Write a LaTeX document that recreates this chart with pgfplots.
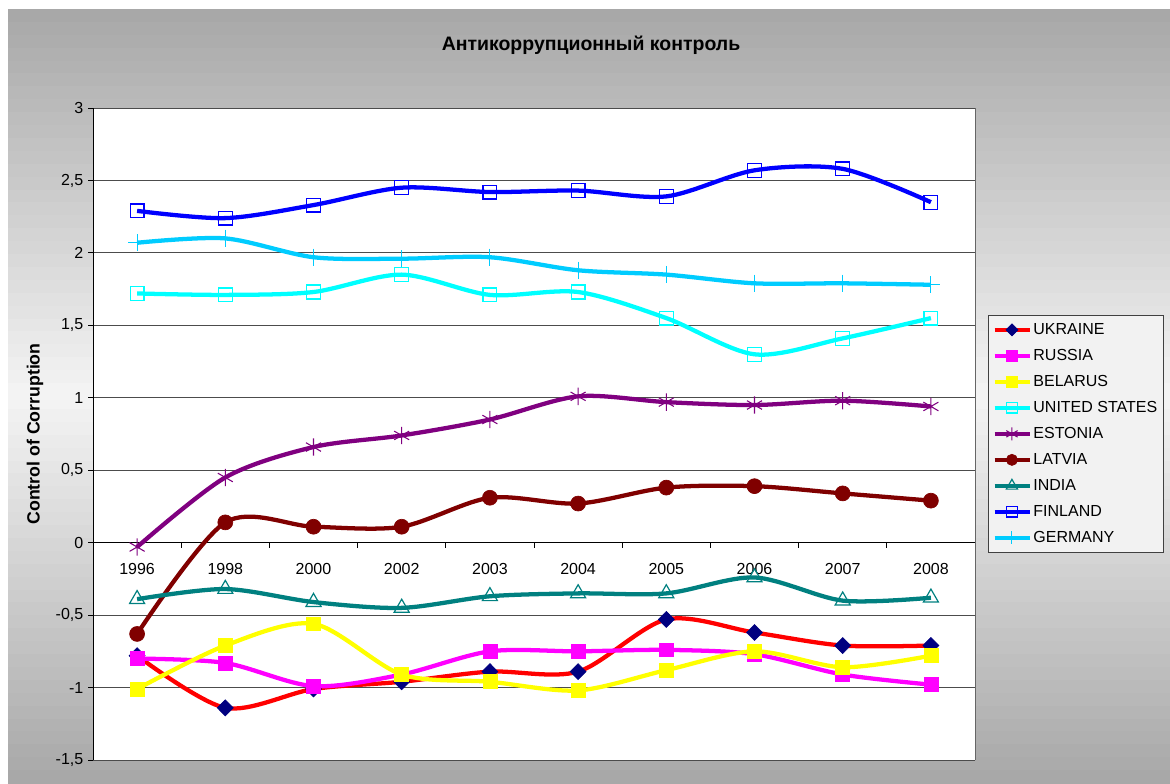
\documentclass[border=0pt]{standalone}
\usepackage{fontspec}
\setmainfont{Liberation Sans}
\usepackage{pgfplots}
\usepackage{pgfplotstable}
\pgfplotsset{compat=1.18}
\pgfdeclarelayer{chartbg}
\pgfsetlayers{chartbg,main}

\definecolor{legfill}{HTML}{F2F2F2}
\definecolor{cUKR}{HTML}{FF0000}
\definecolor{mUKR}{HTML}{000080}
\definecolor{cRUS}{HTML}{FF00FF}
\definecolor{cBLR}{HTML}{FFFF00}
\definecolor{cUSA}{HTML}{00FFFF}
\definecolor{cEST}{HTML}{800080}
\definecolor{cLVA}{HTML}{800000}
\definecolor{cIND}{HTML}{008080}
\definecolor{cFIN}{HTML}{0000FF}
\definecolor{cDEU}{HTML}{00CCFF}

% control of corruption, 1996-2008 (x = category index)
\pgfplotstableread{
x  UKR   RUS   BLR   USA   EST   LVA   IND   FIN   DEU
0 -0.78 -0.80 -1.01  1.72 -0.03 -0.63 -0.39  2.29  2.07
1 -1.14 -0.83 -0.71  1.71  0.45  0.14 -0.32  2.24  2.10
2 -1.01 -0.99 -0.56  1.73  0.66  0.11 -0.41  2.33  1.97
3 -0.96 -0.91 -0.91  1.85  0.74  0.11 -0.45  2.45  1.96
4 -0.89 -0.75 -0.96  1.71  0.85  0.31 -0.37  2.42  1.97
5 -0.89 -0.75 -1.02  1.73  1.01  0.27 -0.35  2.43  1.88
6 -0.53 -0.74 -0.88  1.55  0.97  0.38 -0.35  2.39  1.85
7 -0.62 -0.77 -0.75  1.30  0.95  0.39 -0.24  2.57  1.79
8 -0.71 -0.91 -0.86  1.41  0.98  0.34 -0.40  2.58  1.79
9 -0.71 -0.98 -0.78  1.55  0.94  0.29 -0.38  2.35  1.78
}\cc

\pgfplotsset{
  ser/.style={smooth, line width=3.2pt, color=#1, mark size=5.2pt},
}

\begin{document}
\begin{tikzpicture}
\begin{axis}[
  at={(69.75pt,17.25pt)}, anchor=south west,
  scale only axis, width=661.5pt, height=489pt,
  axis background/.style={fill=white},
  xmin=-0.5, xmax=9.5, ymin=-1.5, ymax=3,
  axis x line=middle, axis y line=left,
  x axis line style={-, black, line width=0.75pt},
  y axis line style={-, black, line width=0.75pt},
  xtick={0,...,9},
  xticklabels={1996,1998,2000,2002,2003,2004,2005,2006,2007,2008},
  major x tick style={draw=none},
  minor xtick={-0.5,0.5,...,9.5},
  minor x tick style={black, line width=0.75pt},
  minor tick length=3.75pt,
  xtick align=outside,
  xticklabel style={yshift=-8pt},
  ytick={-1.5,-1,...,3},
  ytick align=outside,
  major tick length=3.75pt,
  y tick style={black, line width=0.75pt},
  ymajorgrids,
  major grid style={black!70, line width=0.75pt},
  tick label style={font=\fontsize{12}{14}\selectfont},
  /pgf/number format/use comma,
  /pgf/number format/assume math mode=true,
  clip=false,
  legend style={at={(1.0147,0.6825)}, anchor=north west,
    fill=legfill, draw=black!75, line width=0.75pt,
    font=\fontsize{12}{14}\selectfont,
    inner xsep=3pt, inner ysep=5pt, row sep=8pt,
    nodes={inner xsep=1.5pt, inner ysep=0pt, text height=9pt, text depth=2.5pt},
    cells={anchor=west}},
  legend image code/.code={
    \draw[mark repeat=2, mark phase=2, every mark/.append style={scale=0.75}]
      plot coordinates {(0pt,0pt) (13pt,0pt) (26pt,0pt)};},
]
\draw[black!60, line width=0.75pt] (rel axis cs:1,0) -- (rel axis cs:1,1);

\addplot[ser=cUKR, mark=diamond*, mark size=6pt, mark options={solid, line width=0.5pt, draw=mUKR, fill=mUKR, xscale=1.33}] table[x=x, y=UKR] {\cc};
\addlegendentry{UKRAINE}
\addplot[ser=cRUS, mark=square*, mark options={solid, line width=0.5pt, draw=cRUS, fill=cRUS}] table[x=x, y=RUS] {\cc};
\addlegendentry{RUSSIA}
\addplot[ser=cBLR, mark=square*, mark options={solid, line width=0.5pt, draw=cBLR, fill=cBLR}] table[x=x, y=BLR] {\cc};
\addlegendentry{BELARUS}
\addplot[ser=cUSA, mark=square, mark options={solid, line width=0.9pt, draw=cUSA, fill=none}] table[x=x, y=USA] {\cc};
\addlegendentry{UNITED STATES}
\addplot[ser=cEST, mark=asterisk, mark size=6.5pt, mark options={solid, line width=0.8pt, draw=cEST}] table[x=x, y=EST] {\cc};
\addlegendentry{ESTONIA}
\addplot[ser=cLVA, mark=*, mark size=5.6pt, mark options={solid, line width=0.5pt, draw=cLVA, fill=cLVA}] table[x=x, y=LVA] {\cc};
\addlegendentry{LATVIA}
\addplot[ser=cIND, mark=triangle, mark size=6.5pt, mark options={solid, line width=0.9pt, draw=cIND, fill=none}] table[x=x, y=IND] {\cc};
\addlegendentry{INDIA}
\addplot[ser=cFIN, mark=square, mark options={solid, line width=0.9pt, draw=cFIN, fill=none}] table[x=x, y=FIN] {\cc};
\addlegendentry{FINLAND}
\addplot[ser=cDEU, mark=+, mark size=6.5pt, mark options={solid, line width=0.8pt, draw=cDEU}] table[x=x, y=DEU] {\cc};
\addlegendentry{GERMANY}
\end{axis}
\begin{scope}[x=0.75pt,y=0.75pt]
  \node[font=\bfseries\fontsize{14.6}{17}\selectfont] at (591,738) {Антикоррупционный контроль};
  \node[rotate=90, font=\bfseries\fontsize{13.3}{15}\selectfont] at (35,349) {Control of Corruption};
  \begin{pgfonlayer}{chartbg}
    \fill[white] (0,0) rectangle (1170,783);
    % chart area: grey at top and bottom, light in the middle (strips)
    \foreach \i in {0,...,59} {
      \pgfmathsetmacro\gv{0.957-0.298*abs(\i-29.5)/29.5}
      \definecolor{stripc}{gray}{\gv}
      \pgfmathsetmacro\ya{774-\i*12.9}
      \pgfmathsetmacro\yb{774-(\i+1)*12.9-0.6}
      \fill[stripc] (8,\ya) rectangle (1170,\yb);
    }
  \end{pgfonlayer}
\end{scope}
\pgfresetboundingbox
\path[use as bounding box] (0,0) rectangle (877.5pt,587.25pt);
\end{tikzpicture}
\end{document}
